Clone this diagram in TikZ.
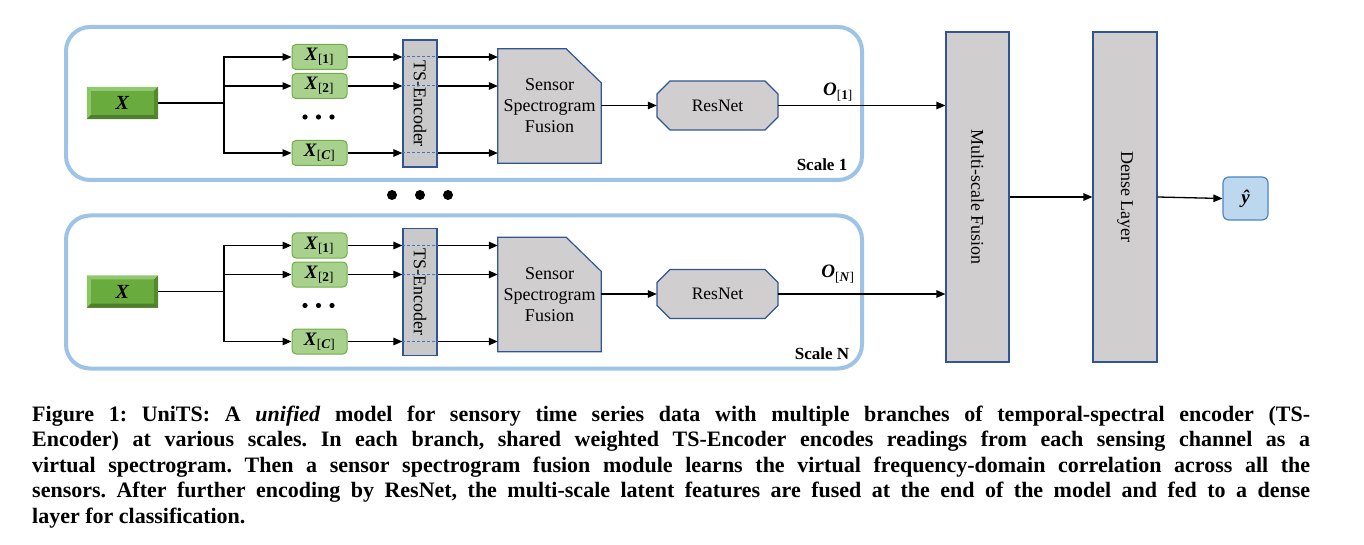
\documentclass[tikz,border=0pt]{standalone}
\usepackage{fontspec}
\setmainfont{Liberation Serif}
\usetikzlibrary{arrows.meta,calc}
\definecolor{scaleblue}{HTML}{9DC3E6}
\definecolor{boxgray}{HTML}{D0CECE}
\definecolor{tsgray}{HTML}{C9C9C9}
\definecolor{boxblue}{HTML}{2F5597}
\definecolor{dashblue}{HTML}{4472C4}
\definecolor{xgreen}{HTML}{A9D18E}
\definecolor{xgreenline}{HTML}{70AD47}
\definecolor{bigface}{HTML}{6AAB3E}
\definecolor{bevlight}{HTML}{93C872}
\definecolor{bevdark}{HTML}{4F7F2E}
\definecolor{yfill}{HTML}{BDD7EE}
\definecolor{yline}{HTML}{4A86C5}
\tikzset{
  conn/.style={line width=1.3pt, black},
  arr/.style={conn, -{Triangle[length=9pt,width=7.5pt]}},
  scalebox/.style={draw=scaleblue, line width=4pt, rounded corners=24pt, minimum width=796pt, minimum height=153pt, inner sep=0pt},
  xsub/.style={draw=xgreenline, fill=xgreen, line width=1pt, rounded corners=4pt, minimum width=55pt, minimum height=25pt, inner sep=0pt, font=\fontsize{19}{21}\selectfont},
  bigx/.style={fill=bigface, minimum width=71pt, minimum height=32pt, inner sep=0pt, font=\fontsize{20}{22}\selectfont},
  graybox/.style={fill=boxgray, draw=boxblue, line width=1.2pt, inner sep=0pt},
  lbl/.style={font=\fontsize{18}{21}\selectfont},
  tsdash/.style={dashblue, line width=1pt, dash pattern=on 3pt off 2pt},
}
\begin{document}
\begin{tikzpicture}[x=1pt,y=-1pt]
\useasboundingbox (0,0) rectangle (1364,545);
% right column
\node[graybox, minimum width=63pt, minimum height=330pt, lbl] (msf) at (977.5,197) {\rotatebox{-90}{Multi-scale Fusion}};
\node[graybox, minimum width=64pt, minimum height=330pt, lbl] (dense) at (1125,197) {\rotatebox{-90}{Dense Layer}};
\node[fill=yfill, draw=yline, line width=1.2pt, rounded corners=6pt, minimum width=45pt, minimum height=43pt, inner sep=0pt, font=\fontsize{19}{21}\selectfont] (yhat) at (1245.5,198.5) {\textbf{\textit{ŷ}}};
\draw[arr] (msf.east) -- (dense.west);
\draw[arr] (dense.east) -- (yhat.west);
% scales
\foreach \s/\dy/\oy/\olab/\slab in {1/0/92/{\textbf{\textit{O}}\textsubscript{[\textbf{1}]}}/{Scale 1}, N/188.5/85.5/{\textbf{\textit{O}}\textsubscript{[\textbf{\textit{N}}]}}/{Scale N}}{
\begin{scope}[yshift={-\dy*1pt}]
\node[scalebox] (sc\s) at (464,103.5) {};
\node[anchor=center, font=\fontsize{17}{19}\selectfont\bfseries] (sl\s) at (822,165) {\slab};
% big X
\node[bigx] (X\s) at (122.5,103) {\textbf{\textit{X}}};
\fill[bevlight] (X\s.north west) -- (X\s.north east) -- ($(X\s.north east)+(-4,4)$) -- ($(X\s.north west)+(4,4)$) -- cycle;
\fill[bevlight!85!bigface] (X\s.north west) -- ($(X\s.north west)+(4,4)$) -- ($(X\s.south west)+(4,-4)$) -- (X\s.south west) -- cycle;
\fill[bevdark] (X\s.south west) -- (X\s.south east) -- ($(X\s.south east)+(-4,-4)$) -- ($(X\s.south west)+(4,-4)$) -- cycle;
\fill[bevdark!80!bigface] (X\s.north east) -- ($(X\s.north east)+(-4,4)$) -- ($(X\s.south east)+(-4,-4)$) -- (X\s.south east) -- cycle;
% channel boxes
\node[xsub] (Xa\s) at (319.5,57) {\textbf{\textit{X}}\textsubscript{[\textbf{1}]}};
\node[xsub] (Xb\s) at (319.5,86) {\textbf{\textit{X}}\textsubscript{[\textbf{2}]}};
\node[xsub] (Xc\s) at (319.5,153) {\textbf{\textit{X}}\textsubscript{[\textbf{\textit{C}}]}};
\foreach \xx in {305,318.5,332} \fill (\xx,117) circle (2.6pt);
\coordinate (sp\s) at (224,103);
\draw[conn] (X\s.east) -- (sp\s);
\draw[arr] (sp\s) |- (Xa\s.west);
\draw[arr] (sp\s) |- (Xb\s.west);
\draw[arr] (sp\s) |- (Xc\s.west);
% TS encoder
\node[graybox, fill=tsgray, minimum width=34pt, minimum height=127pt, lbl] (ts\s) at (420,103.5) {\rotatebox{-90}{TS-Encoder}};
% sensor spectrogram fusion
\fill[boxgray] (498,49) -- (566,49) -- (601,83) -- (601,163) -- (498,163) -- cycle;
\node[minimum width=103pt, minimum height=114pt, inner sep=0pt, align=center, font=\fontsize{18}{21}\selectfont] (ssf\s) at (549.5,106) {Sensor\\Spectrogram\\Fusion};
\draw[boxblue, line width=1.2pt] (ssf\s.south west) -- (ssf\s.north west) -- ($(ssf\s.north east)+(-35,0)$) -- ($(ssf\s.north east)+(0,34)$) -- (ssf\s.south east) -- cycle;
\foreach \c in {Xa,Xb,Xc}{
  \draw[tsdash] (\c\s.east -| ts\s.west) -- (\c\s.east -| ts\s.east);
  \draw[arr] (\c\s.east) -- (\c\s.east -| ts\s.west);
  \draw[arr] (\c\s.east -| ts\s.east) -- (\c\s.east -| ssf\s.west);
}
% ResNet
\fill[boxgray, draw=boxblue, line width=1.2pt] (670,81) -- (765,81) -- (778,94) -- (778,117) -- (765,130) -- (670,130) -- (657,117) -- (657,94) -- cycle;
\node[minimum width=121pt, minimum height=49pt, inner sep=0pt, font=\fontsize{17.5}{20}\selectfont] (rn\s) at (717.5,105.5) {ResNet};
\draw[arr] (ssf\s.east |- rn\s.west) -- (rn\s.west);
\draw[arr] (rn\s.east) -- (rn\s.east -| msf.west);
\node[font=\fontsize{19}{21}\selectfont] (o\s) at (838,\oy) {\olab};
\end{scope}
}
% big dots
\foreach \xx in {392,420,448} \fill (\xx,195) circle (5pt);
% caption
\node[anchor=base west, inner sep=0pt, font=\fontsize{22}{25.5}\selectfont\bfseries] (cap) at (32,421) {\vtop{\hsize=1278pt \parindent=0pt \tolerance=10000 \hyphenpenalty=10000 \exhyphenpenalty=10000 \emergencystretch=0pt \frenchspacing \noindent
Figure 1: UniTS: A \textit{unified} model for sensory time series data with multiple branches of temporal-spectral encoder (TS-\linebreak
Encoder) at various scales. In each branch, shared weighted TS-Encoder encodes readings from each sensing channel as a\linebreak
virtual spectrogram. Then a sensor spectrogram fusion module learns the virtual frequency-domain correlation across all the\linebreak
sensors. After further encoding by ResNet, the multi-scale latent features are fused at the end of the model and fed to a dense\linebreak
layer for classification.\par}};
\end{tikzpicture}
\end{document}
